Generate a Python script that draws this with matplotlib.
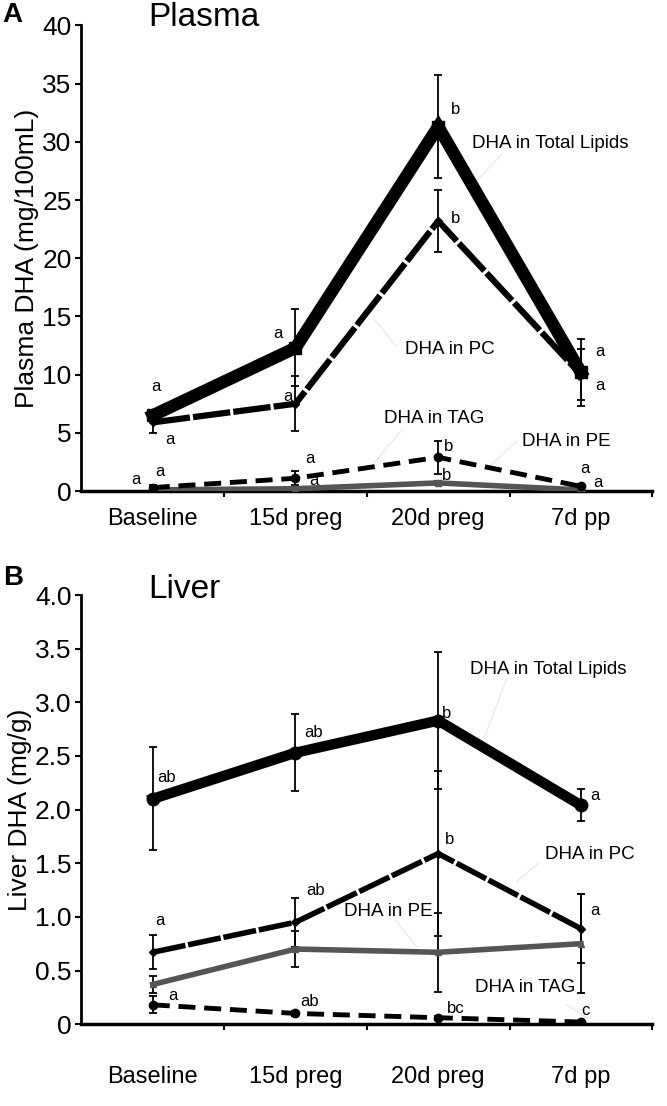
import numpy as np
import matplotlib
matplotlib.use('Agg')
import matplotlib.pyplot as plt

plt.rcParams['font.family'] = ['Liberation Sans', 'DejaVu Sans']

categories = ['Baseline', '15d preg', '20d preg', '7d pp']

# ---- Plasma (mg/100mL) ----
pl_total = [6.5, 12.3, 31.3, 10.2]
pl_total_lo = [0.4, 3.3, 4.4, 2.9]
pl_total_hi = [0.4, 3.3, 4.4, 2.9]
pl_pc = [5.9, 7.5, 23.2, 10.0]
pl_pc_err = [0.9, 2.35, 2.7, 2.2]
pl_tag = [0.3, 1.1, 2.9, 0.4]
pl_tag_err = [0.2, 0.6, 1.4, 0.2]
pl_pe = [0.1, 0.2, 0.7, 0.1]
pl_pe_err = [0.05, 0.1, 0.2, 0.05]

# ---- Liver (mg/g) ----
lv_total = [2.10, 2.53, 2.83, 2.04]
lv_total_err = [0.48, 0.36, 0.64, 0.15]
lv_pc = [0.67, 0.95, 1.59, 0.89]
lv_pc_err = [0.16, 0.23, 0.77, 0.32]
lv_pe = [0.37, 0.70, 0.67, 0.75]
lv_pe_err = [0.08, 0.17, 0.37, 0.46]
lv_tag = [0.18, 0.10, 0.06, 0.02]
lv_tag_err = [0.08, 0.02, 0.02, 0.01]

# significance letters (x, y, text)
pl_letters = [(0.52, 9.0, 'a'), (0.62, 4.4, 'a'), (1.38, 13.5, 'a'), (1.45, 8.1, 'a'),
              (2.62, 32.8, 'b'), (2.62, 23.4, 'b'), (3.63, 12.0, 'a'), (3.63, 9.1, 'a'),
              (0.38, 1.0, 'a'), (0.55, 1.7, 'a'), (1.6, 2.8, 'a'), (1.63, 0.9, 'a'),
              (2.57, 3.8, 'b'), (2.56, 1.3, 'b'), (3.53, 1.9, 'a'), (3.62, 0.7, 'a')]
lv_letters = [(0.6, 2.3, 'ab'), (1.63, 2.72, 'ab'), (2.56, 2.9, 'b'), (3.6, 2.13, 'a'),
              (2.58, 1.72, 'b'), (1.64, 1.25, 'ab'), (0.55, 0.97, 'a'), (3.6, 1.06, 'a'),
              (0.64, 0.27, 'a'), (1.6, 0.21, 'ab'), (2.62, 0.15, 'bc'), (3.53, 0.13, 'c')]

pl_labels = [(2.74, 29.9, 'DHA in Total Lipids'), (2.27, 12.2, 'DHA in PC'),
             (2.12, 6.2, 'DHA in TAG'), (3.09, 4.3, 'DHA in PE')]
lv_labels = [(2.72, 3.31, 'DHA in Total Lipids'), (3.25, 1.58, 'DHA in PC'),
             (1.84, 1.05, 'DHA in PE'), (2.76, 0.34, 'DHA in TAG')]

# faint leader lines (label anchor -> curve)
pl_leaders = [((2.95, 29.0), (2.76, 26.5)), ((2.2, 12.5), (2.05, 14.8)),
              ((2.25, 5.3), (2.05, 2.4)), ((3.05, 4.3), (2.85, 2.0))]
lv_leaders = [((2.98, 3.22), (2.82, 2.66)), ((3.2, 1.5), (3.05, 1.33)),
              ((2.2, 0.97), (2.35, 0.72)), ((3.4, 0.18), (3.55, 0.05))]

x = np.arange(len(categories)) + 0.5

fig = plt.figure(figsize=(6.67, 11.06), dpi=100)
axA = fig.add_axes([0.122, 0.556, 0.856, 0.421])
axB = fig.add_axes([0.122, 0.074, 0.856, 0.388])


def style(ax, ymax, ticks, ticklabels, ylabel, title, xpad, title_y):
    ax.set_xlim(0, 4)
    ax.set_ylim(0, ymax)
    for s in ['top', 'right']:
        ax.spines[s].set_visible(False)
    ax.spines['left'].set_linewidth(2)
    ax.spines['bottom'].set_linewidth(2.5)
    ax.set_yticks(ticks)
    ax.set_yticklabels(ticklabels)
    ax.tick_params(axis='y', labelsize=19, length=4, width=1.5, pad=3)
    ax.set_xticks(x)
    ax.set_xticklabels(categories)
    ax.tick_params(axis='x', which='major', length=0, labelsize=17, pad=xpad)
    ax.set_xticks([1, 2, 3, 4], minor=True)
    ax.tick_params(axis='x', which='minor', length=4, width=1.5)
    ax.set_ylabel(ylabel, fontsize=19, labelpad=2)
    ax.text(0.47, title_y, title, fontsize=24, ha='left', va='center', clip_on=False)


def err(ax, y, lo, hi=None):
    if hi is None:
        hi = lo
    ax.errorbar(x, y, yerr=[lo, hi], fmt='none', ecolor='black', elinewidth=1.3,
                capsize=3, capthick=1.3, zorder=2)


# ---- Panel A ----
err(axA, pl_total, pl_total_lo, pl_total_hi)
err(axA, pl_pc, pl_pc_err)
err(axA, pl_tag, pl_tag_err)
err(axA, pl_pe, pl_pe_err)
axA.plot(x, pl_pe, color='#555555', lw=4, marker='s', ms=4, zorder=3)
axA.plot(x, pl_tag, color='black', lw=3.5, dashes=(3.5, 1.8), marker='o', ms=6, zorder=4)
axA.plot(x, pl_pc, color='black', lw=4.5, dashes=(6, 0.5), marker='D', ms=4, zorder=4)
axA.plot(x, pl_total, color='black', lw=9, marker='s', ms=9, zorder=5, solid_joinstyle='miter')
style(axA, 40, np.arange(0, 41, 5), [str(v) for v in range(0, 41, 5)],
      'Plasma DHA (mg/100mL)', 'Plasma', 12, 40.7)
for (a, b) in pl_leaders:
    axA.plot([a[0], b[0]], [a[1], b[1]], color='#e6e6e6', lw=0.8, zorder=1)
for xx, yy, t in pl_letters:
    axA.text(xx, yy, t, fontsize=12, ha='center', va='center')
for xx, yy, t in pl_labels:
    axA.text(xx, yy, t, fontsize=13.5, ha='left', va='center')

# ---- Panel B ----
err(axB, lv_total, lv_total_err)
err(axB, lv_pc, lv_pc_err)
err(axB, lv_pe, lv_pe_err)
err(axB, lv_tag, lv_tag_err)
axB.plot(x, lv_tag, color='black', lw=3.5, dashes=(3.5, 1.8), marker='o', ms=6, zorder=4)
axB.plot(x, lv_pe, color='#555555', lw=4, marker='^', ms=4, zorder=3)
axB.plot(x, lv_pc, color='black', lw=4, dashes=(6, 0.5), marker='D', ms=4, zorder=4)
axB.plot(x, lv_total, color='black', lw=7.5, marker='o', ms=9, zorder=5)
bt = np.arange(0, 4.01, 0.5)
style(axB, 4.0, bt, ['0'] + [f'{v:.1f}' for v in bt[1:]], 'Liver DHA (mg/g)', 'Liver', 30, 4.05)
for (a, b) in lv_leaders:
    axB.plot([a[0], b[0]], [a[1], b[1]], color='#e6e6e6', lw=0.8, zorder=1)
for xx, yy, t in lv_letters:
    axB.text(xx, yy, t, fontsize=12, ha='center', va='center')
for xx, yy, t in lv_labels:
    axB.text(xx, yy, t, fontsize=13.5, ha='left', va='center')

fig.text(0.004, 0.986, 'A', fontsize=20, fontweight='bold', va='center')
fig.text(0.004, 0.477, 'B', fontsize=20, fontweight='bold', va='center')

fig.savefig('out.png', dpi=100)
